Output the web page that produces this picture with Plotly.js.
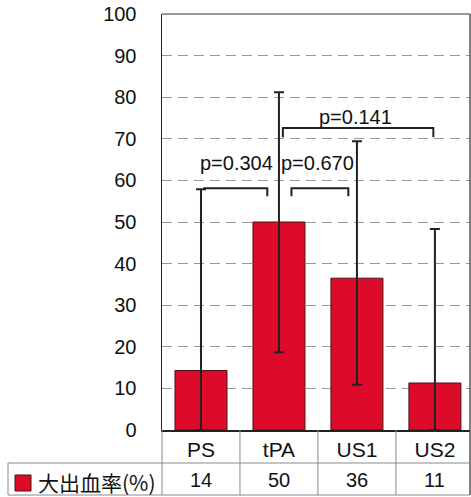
<!DOCTYPE html>
<html><head><meta charset="utf-8">
<script src="https://cdn.plot.ly/plotly-3.0.1.min.js"></script>
<style>html,body{margin:0;padding:0;background:#fff;overflow:hidden}</style>
</head><body><div id="chart" style="width:471px;height:497px"></div>
<script>
// Data
const categories = ['PS', 'tPA', 'US1', 'US2'];
const barValues = [14.3, 50.0, 36.5, 11.3];
const errPlus = [43.6, 31.2, 32.9, 37.0];
const errMinus = [14.3, 31.3, 25.6, 11.3];
const tableLabels = ['14', '50', '36', '11'];
const seriesName = '大出血率(%)';
const yTicks = [0, 10, 20, 30, 40, 50, 60, 70, 80, 90, 100];
const comparisons = [
  {text: 'p=0.304', x0: 0.03, x1: 0.85, y: 58.1, yTick: 56.2, leftTick: false, textX: 0.46, textY: 64.2},
  {text: 'p=0.670', x0: 1.16, x1: 1.89, y: 58.1, yTick: 56.2, leftTick: true, textX: 1.49, textY: 64.2},
  {text: 'p=0.141', x0: 1.05, x1: 2.98, y: 72.6, yTick: 70.4, leftTick: true, textX: 1.98, textY: 75.3}
];

const FONT = 'Liberation Sans, Arial, sans-serif';
const RED = '#dc0b2a';
const xRange = [-0.5, 3.45];
const span = xRange[1] - xRange[0];
const toPaper = v => (v - xRange[0]) / span;
const plotW = 308, plotH = 416;
const pxX = px => (px - 162) / plotW;
const pxY = py => (430 - py) / plotH;

const trace = {
  type: 'bar', x: categories, y: barValues, name: seriesName,
  marker: {color: RED, line: {color: '#4a1414', width: 1}},
  error_y: {type: 'data', symmetric: false, array: errPlus, arrayminus: errMinus,
            color: '#222', thickness: 2, width: 5},
  hoverinfo: 'none'
};

const shapes = [];
const annotations = [];
// brackets
comparisons.forEach(c => {
  let path = 'M ' + c.x0 + ',' + (c.leftTick ? c.yTick : c.y) + ' L ' + c.x0 + ',' + c.y +
             ' L ' + c.x1 + ',' + c.y + ' L ' + c.x1 + ',' + c.yTick;
  shapes.push({type: 'path', xref: 'x', yref: 'y', path: path, line: {color: '#222', width: 2}});
  annotations.push({xref: 'x', yref: 'y', x: c.textX, y: c.textY, text: c.text,
    showarrow: false, xanchor: 'center', yanchor: 'middle', font: {family: FONT, size: 20, color: '#111'}});
});
// frame top and right
shapes.push({type: 'line', xref: 'paper', yref: 'paper', x0: 0, x1: 1, y0: 1, y1: 1, line: {color: '#777', width: 1.5}});
shapes.push({type: 'line', xref: 'paper', yref: 'paper', x0: 1, x1: 1, y0: 1, y1: pxY(495), line: {color: '#555', width: 1.5}});
// table grid
const tblColor = '#8a8a8a';
shapes.push({type: 'line', xref: 'paper', yref: 'paper', x0: pxX(8), x1: 1, y0: pxY(463), y1: pxY(463), line: {color: tblColor, width: 1}});
shapes.push({type: 'line', xref: 'paper', yref: 'paper', x0: pxX(8), x1: 1, y0: pxY(495), y1: pxY(495), line: {color: tblColor, width: 1}});
shapes.push({type: 'line', xref: 'paper', yref: 'paper', x0: pxX(8), x1: pxX(8), y0: pxY(463), y1: pxY(495), line: {color: tblColor, width: 1}});
shapes.push({type: 'line', xref: 'paper', yref: 'paper', x0: 0, x1: 0, y0: 0, y1: pxY(495), line: {color: tblColor, width: 1}});
for (let i = 0; i < categories.length - 1; i++) {
  const xp = toPaper(i + 0.5);
  shapes.push({type: 'line', xref: 'paper', yref: 'paper', x0: xp, x1: xp, y0: 0, y1: pxY(495), line: {color: tblColor, width: 1}});
}
// legend marker square
shapes.push({type: 'rect', xref: 'paper', yref: 'paper', x0: pxX(15), x1: pxX(31), y0: pxY(475), y1: pxY(491),
  fillcolor: RED, line: {color: '#4a1414', width: 1}});
annotations.push({xref: 'paper', yref: 'paper', x: pxX(36), y: pxY(482), xanchor: 'left', yanchor: 'middle',
  text: seriesName, showarrow: false, font: {family: 'Noto Sans CJK JP, sans-serif', size: 21, color: '#111'}});
// table values
categories.forEach((c, i) => {
  annotations.push({xref: 'paper', yref: 'paper', x: toPaper(i), y: pxY(480), xanchor: 'center', yanchor: 'middle',
    text: tableLabels[i], showarrow: false, font: {family: FONT, size: 20, color: '#111'}});
});

const layout = {
  width: 471, height: 497,
  margin: {l: 162, r: 1, t: 14, b: 67, pad: 0},
  paper_bgcolor: '#fff', plot_bgcolor: '#fff',
  showlegend: false, bargap: 0.333,
  font: {family: FONT, color: '#111'},
  xaxis: {type: 'category', range: xRange, showgrid: false, zeroline: false,
          showline: true, linecolor: '#222', linewidth: 1.5, ticks: '',
          tickfont: {family: FONT, size: 21, color: '#111'}, ticklabelstandoff: 0},
  yaxis: {range: [0, 100], tickvals: yTicks, ticktext: yTicks.map(String),
          showgrid: true, gridcolor: '#9a9a9a', gridwidth: 1, griddash: '10px,6px',
          zeroline: false, showline: true, linecolor: '#222', linewidth: 1.5,
          ticks: '', ticklabelstandoff: 20,
          tickfont: {family: FONT, size: 20, color: '#111'}},
  shapes: shapes, annotations: annotations
};

Plotly.newPlot('chart', [trace], layout, {displayModeBar: false, staticPlot: true});
</script></body></html>
